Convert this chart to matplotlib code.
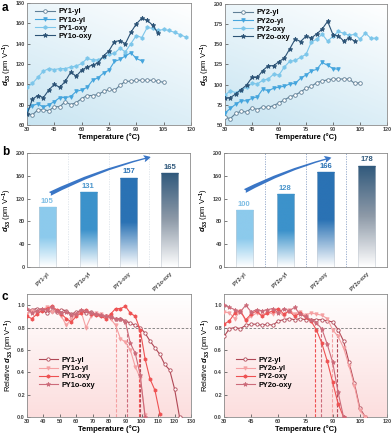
import numpy as np
import matplotlib
matplotlib.use('Agg')
import matplotlib.pyplot as plt
from matplotlib.colors import LinearSegmentedColormap
from matplotlib.patches import FancyArrowPatch

plt.rcParams['font.family'] = ['Liberation Sans', 'DejaVu Sans']
plt.rcParams['mathtext.fontset'] = 'custom'
plt.rcParams['mathtext.rm'] = 'Liberation Sans:bold'
plt.rcParams['mathtext.it'] = 'Liberation Sans:bold:italic'
plt.rcParams['mathtext.bf'] = 'Liberation Sans:bold'

# ---------------- data ----------------
temps = [30, 33, 36, 39, 42, 45, 48, 51, 54, 57, 60, 63, 66, 69, 72, 75, 78, 81,
         84, 87, 90, 93, 96, 99, 102, 105, 108, 111, 114, 117, 120, 123]

# panel a (d33 vs temperature)
py1_yl = [71, 70, 75, 75, 74, 78, 78, 83, 80, 82, 86, 89, 89, 90, 93, 95, 94, 99,
          103, 103, 104, 104, 104, 104, 103, 102]
py1o_yl = [75, 79, 81, 77.5, 80, 83, 87, 87, 88, 93, 94.5, 97, 104, 106.5, 111, 114,
           122.5, 124.5, 128, 131, 125.5, 123]
py1_oxy = [97, 101, 107, 113, 115.5, 114.5, 115.5, 115.5, 117, 118, 120.5, 125.5, 124,
           124, 127, 129.5, 130.5, 135.5, 132, 140, 148, 146, 156, 155, 153, 154, 153,
           151, 149, 146.5]
py1o_oxy = [70.5, 85.5, 89, 87, 94.5, 100, 97, 103, 112, 108, 114, 117, 119, 121, 128,
            133, 142, 143, 140, 151, 159.5, 165, 163, 158, 150]

py2_yl = [59.5, 58, 64.5, 67, 66, 71.5, 69, 72.5, 72, 74, 77.5, 81, 85, 87, 91, 95.5,
          98, 102.5, 104.5, 106, 107, 107, 107, 107, 101.5, 102.5]
py2o_yl = [65, 70.5, 76, 80, 80, 83, 85, 94.5, 92.5, 95.5, 97, 98, 101, 101.5, 108, 112,
           117, 119, 127.5, 124, 120, 119]
py2_oxy = [87, 92.5, 90, 94, 96.5, 101.5, 101, 105.5, 107, 113, 112, 122, 129, 130, 134,
           137.5, 153, 156.5, 162.5, 154, 160, 166, 163.5, 161, 162.5, 156.5, 164, 157.5,
           157.5]
py2o_oxy = [83, 84, 88.5, 94, 99.5, 109, 109, 117.5, 123.5, 123.5, 128.5, 133, 144.5,
            156.5, 153.5, 160, 158, 163, 169, 178.5, 162, 160.5, 154, 158, 154]

# panel b (d33 bars)
names1 = ['PY1-yl', 'PY1o-yl', 'PY1-oxy', 'PY1o-oxy']
names2 = ['PY2-yl', 'PY2o-yl', 'PY2-oxy', 'PY2o-oxy']
d33_1 = [105, 131, 157, 165]
d33_2 = [100, 128, 166, 178]

# panel c (relative d33)
r1_yl = [0.95, 0.96, 0.97, 0.96, 0.93, 0.95, 0.94, 0.96, 0.95, 0.92, 0.94, 0.95, 0.93,
         0.94, 0.92, 0.91, 0.90, 0.89, 0.88, 0.88, 0.86, 0.84, 0.82, 0.80, 0.75, 0.68,
         0.62, 0.56, 0.47, 0.42, 0.25, 0.0]
r1o_yl = [0.92, 0.95, 0.93, 0.96, 0.98, 0.94, 0.95, 0.90, 0.82, 0.88, 0.92, 0.94, 0.80,
          0.90, 0.93, 0.92, 0.90, 0.88, 0.82, 0.70, 0.67, 0.60, 0.45, 0.35, 0.02]
r1_oxy = [0.90, 0.88, 0.92, 0.95, 0.97, 0.99, 0.96, 0.92, 0.88, 0.85, 0.90, 0.93, 0.96,
          0.92, 0.91, 0.90, 0.88, 0.92, 0.97, 0.97, 0.99, 0.93, 0.90, 0.78, 0.52, 0.34,
          0.24, 0.03]
r1o_oxy = [0.97, 0.93, 0.95, 0.97, 0.96, 0.98, 0.95, 0.93, 0.94, 0.91, 0.92, 0.96, 0.95,
           0.93, 0.92, 0.91, 0.90, 0.89, 0.88, 0.88, 0.85, 0.66, 0.57, 0.38, 0.0]

r2_yl = [0.72, 0.79, 0.80, 0.79, 0.82, 0.83, 0.83, 0.82, 0.83, 0.82, 0.86, 0.87, 0.88,
         0.87, 0.88, 0.87, 0.87, 0.87, 0.87, 0.86, 0.85, 0.78, 0.68, 0.49, 0.30, 0.08, 0.0]
r2o_yl = [0.94, 0.93, 0.88, 0.95, 0.86, 0.90, 0.93, 0.91, 0.94, 0.92, 0.95, 0.90, 0.96,
          0.92, 0.94, 0.91, 0.93, 0.92, 0.91, 0.88, 0.78, 0.72, 0.62, 0.46, 0.28, 0.06, 0.0]
r2_oxy = [0.83, 0.86, 0.93, 0.95, 0.87, 0.92, 0.95, 0.90, 0.93, 0.95, 0.97, 0.92, 0.95,
          0.90, 0.93, 0.89, 0.86, 0.78, 0.66, 0.50, 0.31, 0.12, 0.0]
r2o_oxy = [1.0, 0.98, 0.96, 0.94, 1.0, 0.94, 0.96, 0.95, 0.96, 0.97, 0.93, 0.97, 0.95,
           0.98, 0.92, 0.90, 0.87, 0.84, 0.79, 0.65, 0.49, 0.22, 0.0]

blue_cols = ['#5f7f96', '#45a5dd', '#7cc6ea', '#2c5376']
red_cols = ['#b04856', '#f5a0a2', '#ee5152', '#cc6b7a']
markers = ['o', 'v', 'h', '*']
bar_cols = ['#8ccaec', '#3c92cb', '#2a72b4', '#30597c']
label_cols = ['#7dbde4', '#4a95cc', '#2a72b4', '#30597c']

W, H = 391, 436
fig = plt.figure(figsize=(W / 100, H / 100), dpi=100)


def box(l, r, t, b):
    return [l / W, 1 - b / H, (r - l) / W, (b - t) / H]


def style(ax):
    ax.tick_params(direction='in', labelsize=4, length=2, width=0.5, pad=1.5,
                   colors='#444444')
    for s in ax.spines.values():
        s.set_color('#8a8a8a')
        s.set_linewidth(0.6)
    for lab in ax.get_xticklabels() + ax.get_yticklabels():
        lab.set_fontweight('bold')


def bg(ax, c_end, diag=True):
    yy, xx = np.mgrid[0:1:100j, 0:1:100j]
    g = (1 - yy) * 0.65 + (1 - xx) * 0.35 if diag else (1 - yy)
    cmap = LinearSegmentedColormap.from_list('bg', ['white', c_end])
    ax.imshow(g, extent=[0, 1, 0, 1], transform=ax.transAxes, origin='lower',
              aspect='auto', cmap=cmap, zorder=0)


ylab = r'$d_{33}$ (pm V$^{-1}$)'

# ---------------- panel a ----------------
def panel_a(rect, series, labels, ylim, yticks):
    ax = fig.add_axes(rect)
    bg(ax, '#c9e5f2')
    for y, lab, c, m in zip(series, labels, blue_cols, markers):
        fc = 'white' if m == 'o' else c
        ax.plot(temps[:len(y)], y, color=c, marker=m, ms=2.6 if m != '*' else 3.4,
                mfc=fc, mec=c, mew=0.6, lw=0.8, label=lab, zorder=3)
    ax.set_xlim(30, 120)
    ax.set_ylim(*ylim)
    ax.set_xticks(range(30, 121, 15))
    ax.set_yticks(yticks)
    ax.set_xlabel('Temperature (\u00b0C)', fontsize=5.5, fontweight='bold', labelpad=1)
    ax.set_ylabel(ylab, fontsize=5.5, labelpad=1)
    leg = ax.legend(loc='upper left', fontsize=5.3, frameon=False, handlelength=2.6,
                    borderaxespad=0.3, labelspacing=0.15, handletextpad=0.5,
                    bbox_to_anchor=(0.02, 1.0))
    for t in leg.get_texts():
        t.set_fontweight('bold')
    style(ax)
    return ax


panel_a(box(27, 191, 3, 125), [py1_yl, py1o_yl, py1_oxy, py1o_oxy], names1,
        (60, 180), range(60, 181, 20))
panel_a(box(225, 387, 4, 125), [py2_yl, py2o_yl, py2_oxy, py2o_oxy], names2,
        (50, 200), range(50, 201, 25))

# ---------------- panel b ----------------
def panel_b(rect, names, vals, arrow_from, arrow_to, sep_col):
    ax = fig.add_axes(rect)
    xs = np.arange(len(vals))
    grad = np.linspace(0, 1, 200).reshape(-1, 1)
    for i, v in enumerate(vals):
        b = ax.bar(xs[i], v, width=0.42, color='none', edgecolor='#c5ccd4', lw=0.4,
                   zorder=3)[0]
        c1 = bar_cols[i]
        mid = '#8e9aa8' if i == 3 else c1
        cmap = LinearSegmentedColormap.from_list('bar', ['white', mid, c1], N=256)
        im = ax.imshow(grad, extent=[b.get_x(), b.get_x() + b.get_width(), 0, v],
                       origin='lower', aspect='auto', cmap=cmap, zorder=2)
        im.set_clip_path(b)
        ax.hlines(v, b.get_x(), b.get_x() + b.get_width(), color=c1, lw=1.0, zorder=4)
        ax.text(xs[i], v + 4, str(v), ha='center', va='bottom', fontsize=5.5,
                fontweight='bold', color=label_cols[i])
    for s in xs[:-1] + 0.5:
        ax.axvline(s, color=sep_col, ls=(0, (1.5, 1.5)), lw=0.6, zorder=1)
    arr = FancyArrowPatch(arrow_from, arrow_to, connectionstyle='arc3,rad=-0.06',
                          arrowstyle='fancy,head_length=5,head_width=5,tail_width=3',
                          color='#3a76c6', lw=0, zorder=5)
    ax.add_patch(arr)
    ax.set_xlim(-0.5, len(vals) - 0.5)
    ax.set_ylim(0, 200)
    ax.set_yticks(range(0, 201, 40))
    ax.set_xticks(xs)
    ax.set_xticklabels(names, rotation=45, ha='right', rotation_mode='anchor')
    ax.set_ylabel(ylab, fontsize=5.5, labelpad=1)
    style(ax)
    ax.tick_params(axis='x', length=0, pad=3)
    return ax


panel_b(box(27, 190, 153, 267), names1, d33_1, (0.0, 126), (2.6, 194), '#dde3ea')
panel_b(box(224, 387, 153, 267), names2, d33_2, (-0.05, 131), (2.2, 193), '#8da3c8')

# ---------------- panel c ----------------
def crossing(x, y, level=0.8):
    idx = max(i for i in range(len(y) - 1) if y[i] >= level)
    return np.interp(level, [y[idx + 1], y[idx]], [x[idx + 1], x[idx]])


def panel_c(rect, series, labels, xmax, xstep):
    ax = fig.add_axes(rect)
    bg(ax, '#fcdede', diag=False)
    for y, lab, c, m in zip(series, labels, red_cols, markers):
        fc = 'white' if m == 'o' else c
        x = temps[:len(y)]
        ax.plot(x, y, color=c, marker=m, ms=2.4 if m != '*' else 3.2, mfc=fc, mec=c,
                mew=0.6, lw=0.8, label=lab, zorder=3)
        tc = crossing(x, y)
        ax.vlines(tc, 0, 0.8, color=c, ls=(0, (3, 1.5)), lw=0.8, zorder=2)
    ax.axhline(0.8, color='#777777', ls=(0, (3, 2)), lw=0.6, zorder=2)
    ax.set_xlim(30, xmax)
    ax.set_ylim(0, 1.1)
    ax.set_xticks(range(30, xmax + 1, xstep))
    ax.set_yticks(np.arange(0, 1.01, 0.2))
    ax.yaxis.set_major_formatter(matplotlib.ticker.FormatStrFormatter('%.1f'))
    ax.set_xlabel('Temperature (\u00b0C)', fontsize=5.5, fontweight='bold', labelpad=1)
    ax.set_ylabel(r'Relative $d_{33}$ (pm V$^{-1}$)', fontsize=5.5, labelpad=1)
    leg = ax.legend(loc='center left', fontsize=5.3, frameon=False, handlelength=2.6,
                    labelspacing=0.15, handletextpad=0.5, bbox_to_anchor=(0.03, 0.36))
    for t in leg.get_texts():
        t.set_fontweight('bold')
    style(ax)
    return ax


panel_c(box(27, 191, 294, 417), [r1_yl, r1o_yl, r1_oxy, r1o_oxy], names1, 130, 10)
panel_c(box(224, 387, 294, 417), [r2_yl, r2o_yl, r2_oxy, r2o_oxy], names2, 120, 15)

for lab, (x, y) in zip('abc', [(2, 2), (2, 146), (2, 291)]):
    fig.text(x / W, 1 - y / H, lab, fontsize=8.5, fontweight='bold', va='top')

fig.savefig('out.png', dpi=100)
